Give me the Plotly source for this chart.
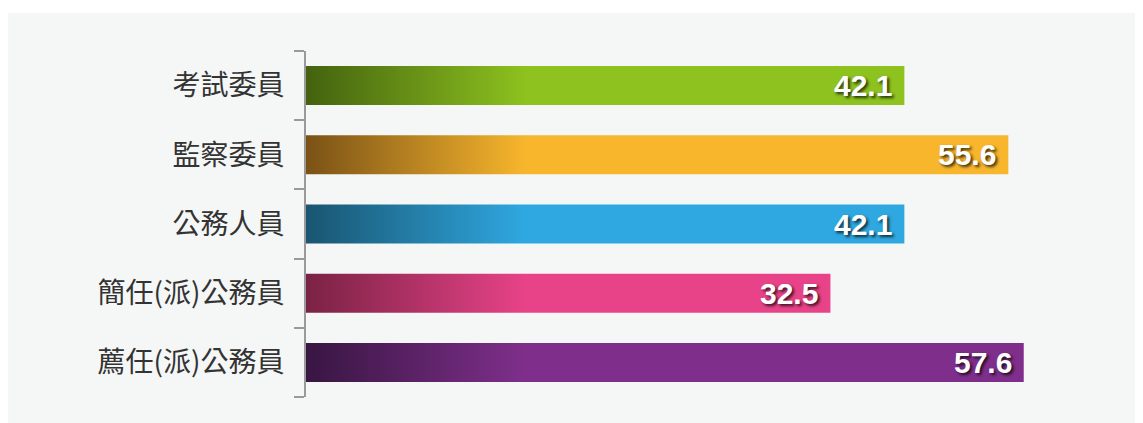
import plotly.graph_objects as go

categories = ["考試委員", "監察委員", "公務人員", "簡任(派)公務員", "薦任(派)公務員"]
values = [42.1, 55.6, 42.1, 32.5, 57.6]

# style (not data)
dark_colors = ["#44620f", "#7a5216", "#195570", "#7a2244", "#381642"]
full_colors = ["#8dc21f", "#f8b62d", "#2fa8e1", "#e84388", "#7f2f8b"]

X_MIN, X_MAX = -35.6, 70.1
GRAD_STOP = -7.0
HALF = 0.282
PANEL = "#f5f7f6"

fig = go.Figure()
for i, (cat, v) in enumerate(zip(categories, values)):
    fig.add_trace(go.Scatter(
        x=[X_MIN, v, v, X_MIN, X_MIN],
        y=[i - HALF, i - HALF, i + HALF, i + HALF, i - HALF],
        mode="lines", fill="toself", line=dict(width=0),
        fillgradient=dict(type="horizontal",
                          colorscale=[[0, dark_colors[i]], [1, full_colors[i]]],
                          start=X_MIN, stop=GRAD_STOP),
        showlegend=False, hoverinfo="skip", name=cat,
    ))
    fig.add_annotation(
        x=v, y=i, xref="x", yref="y", text=f"<b>{v}</b>", showarrow=False,
        xanchor="right", yanchor="middle", xshift=-10,
        font=dict(family="Liberation Sans, Arial", size=30, color="white",
                  shadow="2px 2px 3px rgba(0,0,0,0.75)"),
    )

W, H = 1135, 415
ml, mr, mt, mb = 298, 23, 43, 26
pw, ph = W - ml - mr, H - mt - mb
fig.add_shape(type="rect", xref="paper", yref="paper",
              x0=-ml / pw - 0.01, x1=(W - ml) / pw + 0.01,
              y0=-mb / ph - 0.01, y1=(H - 5 - mb) / ph,
              fillcolor=PANEL, line=dict(width=0), layer="below")

fig.update_layout(
    width=W, height=H,
    margin=dict(l=ml, r=mr, t=mt, b=mb, pad=0),
    paper_bgcolor="white", plot_bgcolor="rgba(0,0,0,0)",
    xaxis=dict(range=[X_MIN, X_MAX], visible=False, showgrid=False, zeroline=False),
    yaxis=dict(range=[4.5, -0.5], tickvals=list(range(len(categories))),
               ticktext=categories, ticks="", showgrid=False, zeroline=False,
               showline=True, linecolor="#9a9a9a", linewidth=2,
               ticklabelstandoff=14,
               tickfont=dict(family="Noto Sans CJK TC", size=28, color="#333333"),
               minor=dict(tickvals=[k - 0.5 for k in range(len(categories) + 1)],
                          ticks="outside", ticklen=10, tickwidth=2, tickcolor="#9a9a9a",
                          showgrid=False)),
)

fig.write_html("out.html")
